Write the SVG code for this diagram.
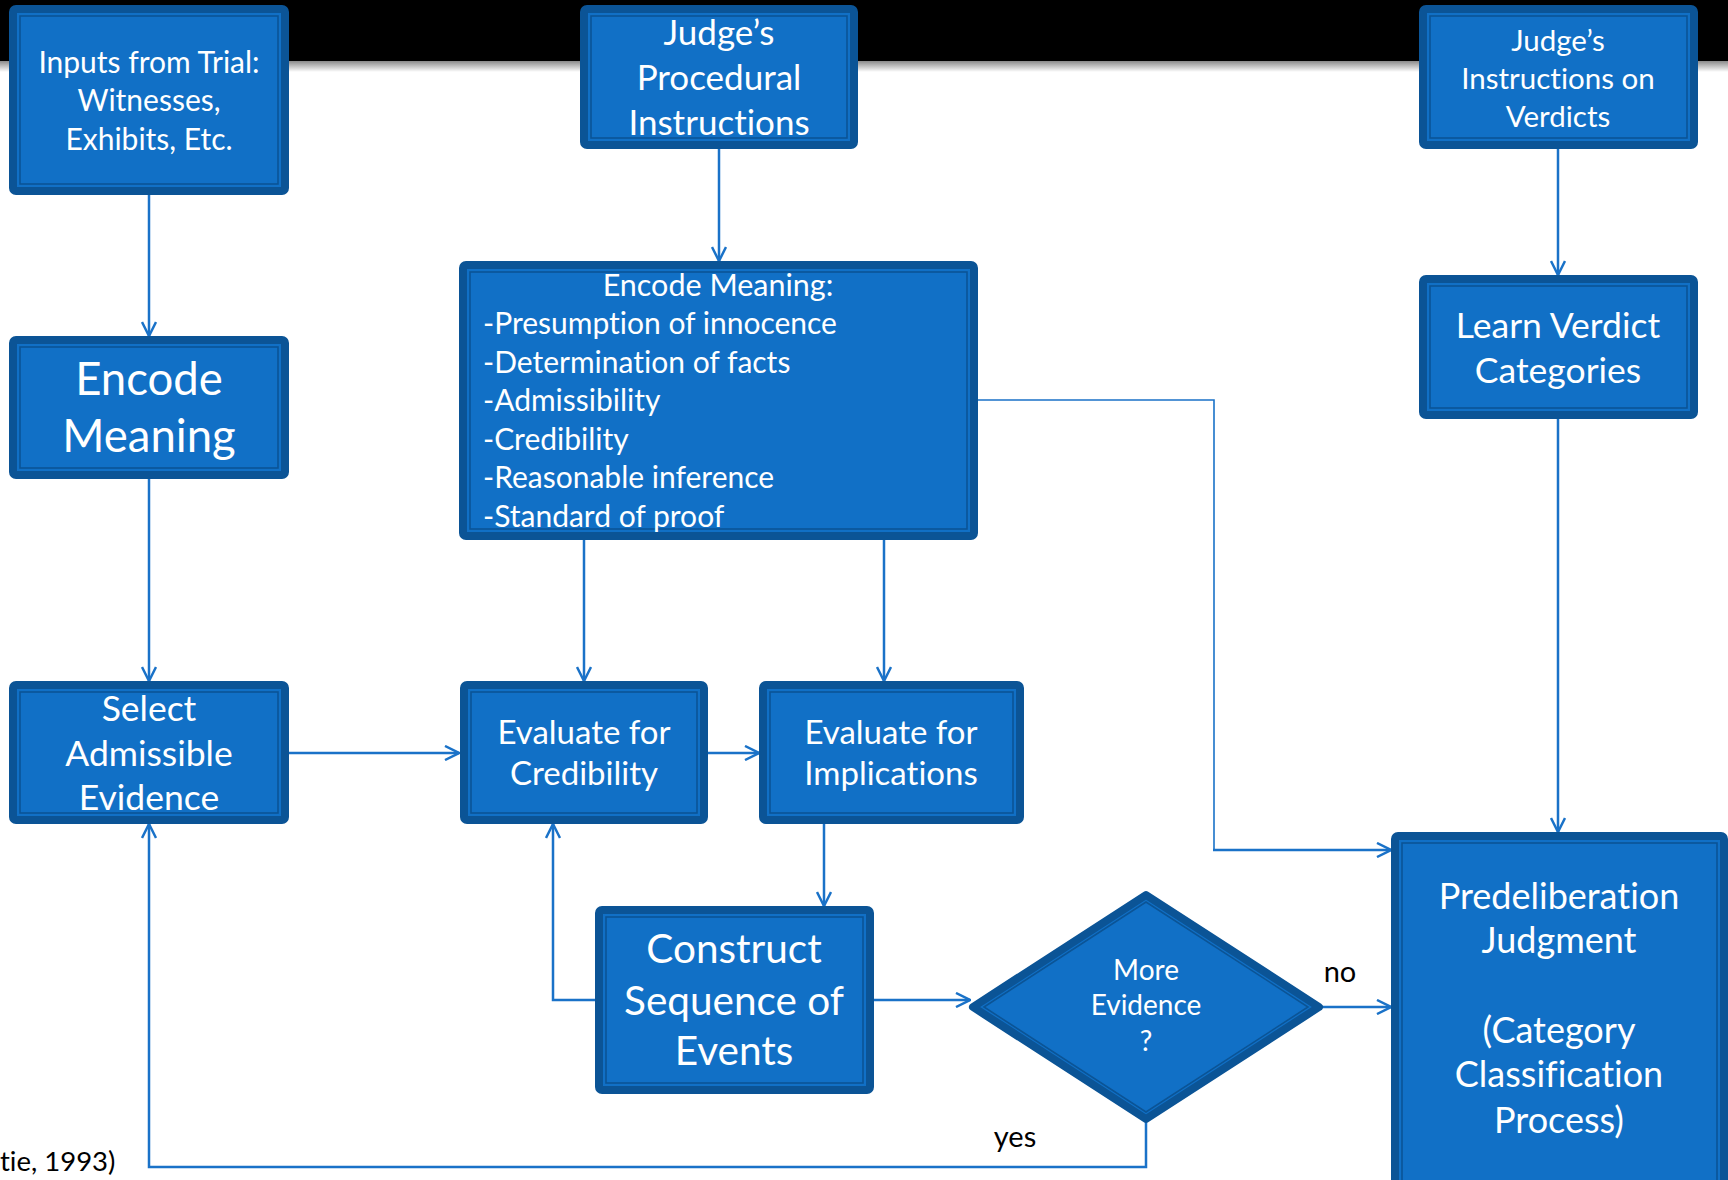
<svg xmlns="http://www.w3.org/2000/svg" width="1728" height="1180" viewBox="0 0 1728 1180">
<defs>
<linearGradient id="shadow" x1="0" y1="0" x2="0" y2="1">
<stop offset="0" stop-color="#8a8a8a"/>
<stop offset="1" stop-color="#ffffff"/>
</linearGradient>
<marker id="arr" viewBox="0 0 16 16" refX="15" refY="8" markerWidth="16" markerHeight="16" markerUnits="userSpaceOnUse" orient="auto">
<path d="M1,1 L15,8 L1,15" fill="none" stroke="#1a72c8" stroke-width="2.5"/>
</marker>
<style>
text{font-variant-ligatures:none}
.box{fill:#1170c6;stroke:#0b5496;stroke-width:8;stroke-linejoin:round}
.inner{fill:none;stroke:#0b5496;stroke-width:1.6}
.t{fill:#ffffff;font-family:Lato,"Open Sans",sans-serif;text-anchor:middle}
.tl{fill:#ffffff;font-family:Lato,"Open Sans",sans-serif;text-anchor:start}
.lbl{fill:#000000;font-family:Lato,"Open Sans",sans-serif;text-anchor:middle;font-size:29px}
.c{fill:none;stroke:#1a72c8;stroke-width:2.5;marker-end:url(#arr)}
.ct{fill:none;stroke:#1a72c8;stroke-width:1.6}
</style>
</defs>
<rect x="0" y="0" width="1728" height="1180" fill="#ffffff"/>
<rect x="0" y="0" width="1728" height="61" fill="#000000"/>
<rect x="0" y="61" width="1728" height="11" fill="url(#shadow)"/>

<g id="connectors">
<path class="c" d="M149,195 V336"/>
<path class="c" d="M149,479 V681"/>
<path class="c" d="M289,753 H459"/>
<path class="c" d="M707,753 H759"/>
<path class="c" d="M719,149 V261"/>
<path class="c" d="M584,540 V681"/>
<path class="c" d="M884,540 V681"/>
<path class="ct" d="M978,400 H1214 V850"/>
<path class="c" d="M1213,850 H1391"/>
<path class="c" d="M1558,149 V275"/>
<path class="c" d="M1558,419 V832"/>
<path class="c" d="M824,824 V906"/>
<path class="c" d="M595,1000 H553 V824"/>
<path class="c" d="M874,1000 H970"/>
<path class="c" d="M1322,1007 H1391"/>
<path class="c" d="M1146,1122 V1167 H149 V824"/>
</g>

<g id="inputs">
<rect class="box" x="13" y="9" width="272" height="182" rx="3"/>
<rect class="inner" x="20" y="16" width="258" height="168"/>
<text class="t" font-size="30"><tspan x="149" y="73">Inputs from Trial:</tspan><tspan x="149" y="111">Witnesses,</tspan><tspan x="149" y="150">Exhibits, Etc.</tspan></text>
</g>

<g id="procedural">
<rect class="box" x="584" y="9" width="270" height="136" rx="3"/>
<rect class="inner" x="591" y="16" width="256" height="122"/>
<text class="t" font-size="35"><tspan x="719" y="45">Judge’s</tspan><tspan x="719" y="90">Procedural</tspan><tspan x="719" y="135">Instructions</tspan></text>
</g>

<g id="verdicts">
<rect class="box" x="1423" y="9" width="271" height="136" rx="3"/>
<rect class="inner" x="1430" y="16" width="257" height="122"/>
<text class="t" font-size="29.5"><tspan x="1558" y="51">Judge’s</tspan><tspan x="1558" y="89">Instructions on</tspan><tspan x="1558" y="127">Verdicts</tspan></text>
</g>

<g id="encode-left">
<rect class="box" x="13" y="340" width="272" height="135" rx="3"/>
<rect class="inner" x="20" y="347" width="258" height="121"/>
<text class="t" font-size="45.5"><tspan x="149" y="395">Encode</tspan><tspan x="149" y="452">Meaning</tspan></text>
</g>

<g id="encode-big">
<rect class="box" x="463" y="265" width="511" height="271" rx="3"/>
<rect class="inner" x="470" y="272" width="497" height="257"/>
<text class="t" font-size="30.5" x="718" y="296">Encode Meaning:</text>
<text class="tl" font-size="30"><tspan x="483" y="334">-Presumption of innocence</tspan><tspan x="483" y="373">-Determination of facts</tspan><tspan x="483" y="411">-Admissibility</tspan><tspan x="483" y="450">-Credibility</tspan><tspan x="483" y="488">-Reasonable inference</tspan><tspan x="483" y="527">-Standard of proof</tspan></text>
</g>

<g id="learn">
<rect class="box" x="1423" y="279" width="271" height="136" rx="3"/>
<rect class="inner" x="1430" y="286" width="257" height="122"/>
<text class="t" font-size="35.5"><tspan x="1558" y="338">Learn Verdict</tspan><tspan x="1558" y="383">Categories</tspan></text>
</g>

<g id="select">
<rect class="box" x="13" y="685" width="272" height="135" rx="3"/>
<rect class="inner" x="20" y="692" width="258" height="121"/>
<text class="t" font-size="35.5"><tspan x="149" y="721">Select</tspan><tspan x="149" y="766">Admissible</tspan><tspan x="149" y="810">Evidence</tspan></text>
</g>

<g id="eval-cred">
<rect class="box" x="464" y="685" width="240" height="135" rx="3"/>
<rect class="inner" x="471" y="692" width="226" height="121"/>
<text class="t" font-size="33"><tspan x="584" y="744">Evaluate for</tspan><tspan x="584" y="785">Credibility</tspan></text>
</g>

<g id="eval-impl">
<rect class="box" x="763" y="685" width="257" height="135" rx="3"/>
<rect class="inner" x="770" y="692" width="243" height="121"/>
<text class="t" font-size="33"><tspan x="891" y="744">Evaluate for</tspan><tspan x="891" y="785">Implications</tspan></text>
</g>

<g id="construct">
<rect class="box" x="599" y="910" width="271" height="180" rx="3"/>
<rect class="inner" x="606" y="917" width="257" height="166"/>
<text class="t" font-size="40.5"><tspan x="734" y="963">Construct</tspan><tspan x="734" y="1015">Sequence of</tspan><tspan x="734" y="1065">Events</tspan></text>
</g>

<g id="decision">
<polygon class="box" points="973,1007 1146,895 1319,1007 1146,1119"/>
<polygon class="inner" points="984,1007 1146,902 1308,1007 1146,1112"/>
<text class="t" font-size="28"><tspan x="1146" y="980">More</tspan><tspan x="1146" y="1015">Evidence</tspan><tspan x="1146" y="1051">?</tspan></text>
</g>

<g id="predeliberation">
<rect class="box" x="1395" y="836" width="329" height="400" rx="3"/>
<rect class="inner" x="1402" y="843" width="315" height="386"/>
<text class="t" font-size="36"><tspan x="1559" y="909">Predeliberation</tspan><tspan x="1559" y="953">Judgment</tspan><tspan x="1559" y="1043">(Category</tspan><tspan x="1559" y="1087">Classification</tspan><tspan x="1559" y="1133">Process)</tspan></text>
</g>

<g id="labels">
<text class="lbl" x="1340" y="982">no</text>
<text class="lbl" x="1015" y="1147">yes</text>
<text font-family="Lato,'Open Sans',sans-serif" font-size="27.5" fill="#000000" x="0" y="1171">tie, 1993)</text>
</g>
</svg>
